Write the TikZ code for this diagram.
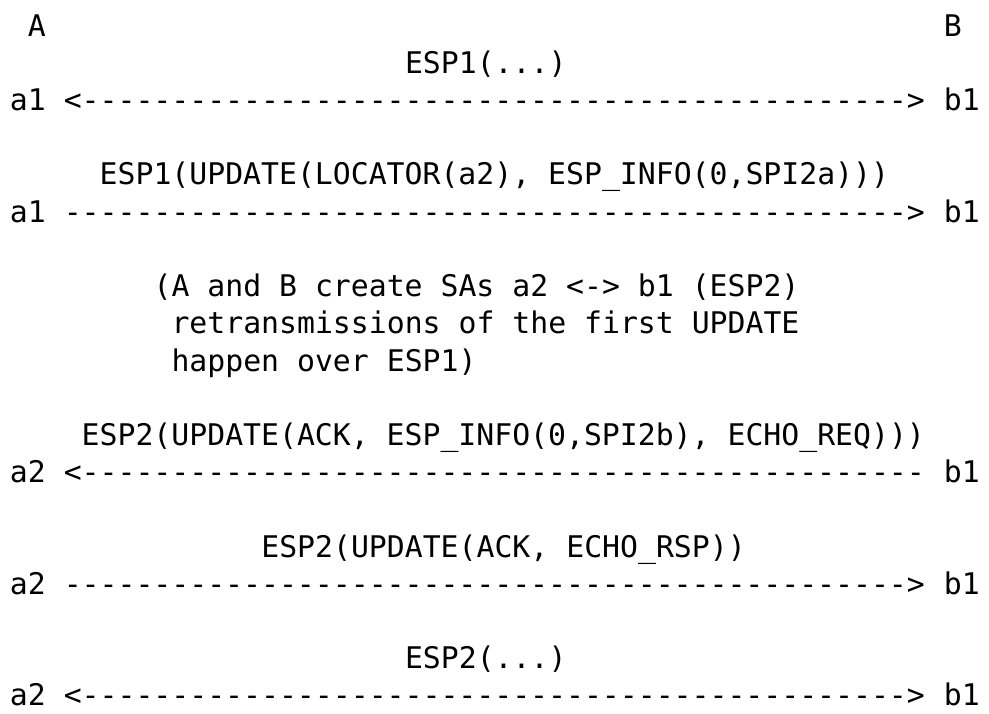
\documentclass[tikz,border=0pt]{standalone}
\usepackage{fontspec}
\setmonofont{DejaVu Sans Mono}
\newcommand{\dsh}[1]{\foreach \k in {1,...,#1}{-}}
\begin{document}
\begin{tikzpicture}[x=1pt,y=-1pt]
\tikzset{txt/.style={inner sep=0pt, outer sep=0pt, anchor=base west, text depth=0pt,
  font=\ttfamily\frenchspacing\fontsize{29.8}{37.2}\selectfont}}
\def\cw{17.96}\def\xo{9.9}\def\yo{36.2}\def\lp{37.2}
\useasboundingbox (0,0) rectangle (989,714);
% row 0: hosts
\node[txt] (hA) at ({\xo+\cw*1},{\yo+\lp*0}) {A};
\node[txt] (hB) at ({\xo+\cw*52},{\yo+\lp*0}) {B};
% row 1-2
\node[txt] (m1) at ({\xo+\cw*22},{\yo+\lp*1}) {ESP1(...)};
\node[txt] (l2) at ({\xo},{\yo+\lp*2}) {a1};
\node[txt] (r2) at ({\xo+\cw*3},{\yo+\lp*2}) {<\dsh{46}>};
\node[txt] (e2) at ({\xo+\cw*52},{\yo+\lp*2}) {b1};
% row 4-5
\node[txt] (m4) at ({\xo+\cw*5},{\yo+\lp*4}) {ESP1(UPDATE(LOCATOR(a2), ESP\_INFO(0,SPI2a)))};
\node[txt] (l5) at ({\xo},{\yo+\lp*5}) {a1};
\node[txt] (r5) at ({\xo+\cw*3},{\yo+\lp*5}) {\dsh{47}>};
\node[txt] (e5) at ({\xo+\cw*52},{\yo+\lp*5}) {b1};
% rows 7-9: note
\node[txt] (n7) at ({\xo+\cw*8},{\yo+\lp*7}) {(A and B create SAs a2 <-> b1 (ESP2)};
\node[txt] (n8) at ({\xo+\cw*9},{\yo+\lp*8}) {retransmissions of the first UPDATE};
\node[txt] (n9) at ({\xo+\cw*9},{\yo+\lp*9}) {happen over ESP1)};
% row 11-12
\node[txt] (m11) at ({\xo+\cw*4},{\yo+\lp*11}) {ESP2(UPDATE(ACK, ESP\_INFO(0,SPI2b), ECHO\_REQ)))};
\node[txt] (l12) at ({\xo},{\yo+\lp*12}) {a2};
\node[txt] (r12) at ({\xo+\cw*3},{\yo+\lp*12}) {<\dsh{47}};
\node[txt] (e12) at ({\xo+\cw*52},{\yo+\lp*12}) {b1};
% row 14-15
\node[txt] (m14) at ({\xo+\cw*14},{\yo+\lp*14}) {ESP2(UPDATE(ACK, ECHO\_RSP))};
\node[txt] (l15) at ({\xo},{\yo+\lp*15}) {a2};
\node[txt] (r15) at ({\xo+\cw*3},{\yo+\lp*15}) {\dsh{47}>};
\node[txt] (e15) at ({\xo+\cw*52},{\yo+\lp*15}) {b1};
% row 17-18
\node[txt] (m17) at ({\xo+\cw*22},{\yo+\lp*17}) {ESP2(...)};
\node[txt] (l18) at ({\xo},{\yo+\lp*18}) {a2};
\node[txt] (r18) at ({\xo+\cw*3},{\yo+\lp*18}) {<\dsh{46}>};
\node[txt] (e18) at ({\xo+\cw*52},{\yo+\lp*18}) {b1};
\end{tikzpicture}
\end{document}
